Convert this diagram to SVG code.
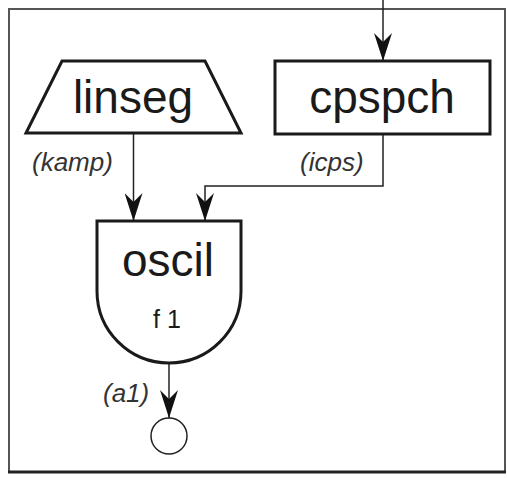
<svg xmlns="http://www.w3.org/2000/svg" width="507" height="478" viewBox="0 0 507 478">
  <style>
    .frame { fill: none; stroke: #555; stroke-width: 2; }
    .frame-base { stroke: #222; stroke-width: 3; }
    .node { fill: #fff; stroke: #1a1a1a; stroke-width: 3; }
    .wire { fill: none; stroke: #222; stroke-width: 1.5; }
    .big { font-family: "Liberation Sans", Arial, sans-serif; font-size: 46px; fill: #1a1a1a; text-anchor: middle; }
    .small { font-family: "Liberation Sans", Arial, sans-serif; font-size: 25px; fill: #1a1a1a; text-anchor: middle; }
    .lbl { font-family: "Liberation Sans", Arial, sans-serif; font-size: 26px; font-style: italic; fill: #333; }
  </style>
  <defs>
    <!-- barbed arrowhead, tip along +x -->
    <marker id="arrow" viewBox="0 0 28 18" refX="28" refY="9" markerWidth="28" markerHeight="18" markerUnits="userSpaceOnUse" orient="auto">
      <path d="M0,0 L9,9 L0,18 L28,9 Z" fill="#111"/>
    </marker>
  </defs>
  <rect width="507" height="478" fill="#fff"/>

  <!-- instrument frame -->
  <rect class="frame" x="9" y="9" width="496" height="463"/>
  <line class="frame-base" x1="8" y1="472" x2="506" y2="472"/>

  <g id="connectors">
    <path class="wire" d="M383,0 V61" marker-end="url(#arrow)"/>
    <path class="wire" d="M133.5,134 V221" marker-end="url(#arrow)"/>
    <path class="wire" d="M383,134 V186 H205 V221" marker-end="url(#arrow)"/>
    <path class="wire" d="M169,363 V418" marker-end="url(#arrow)"/>
  </g>

  <g id="linseg">
    <polygon class="node" points="62,61 205,61 241,133 26,133"/>
    <text class="big" x="133" y="113">linseg</text>
    <text class="lbl" x="32" y="171">(kamp)</text>
  </g>

  <g id="cpspch">
    <rect class="node" x="275" y="61" width="215" height="73"/>
    <text class="big" x="382" y="113">cpspch</text>
    <text class="lbl" x="300" y="171">(icps)</text>
  </g>

  <g id="oscil">
    <path class="node" d="M97,221 H241 V291 A72,72 0 0 1 97,291 Z"/>
    <text class="big" x="168" y="276">oscil</text>
    <text class="small" x="167" y="328">f 1</text>
    <text class="lbl" x="103" y="402">(a1)</text>
  </g>

  <g id="out">
    <circle cx="169" cy="436" r="18" fill="#fff" stroke="#222" stroke-width="1.5"/>
  </g>
</svg>
